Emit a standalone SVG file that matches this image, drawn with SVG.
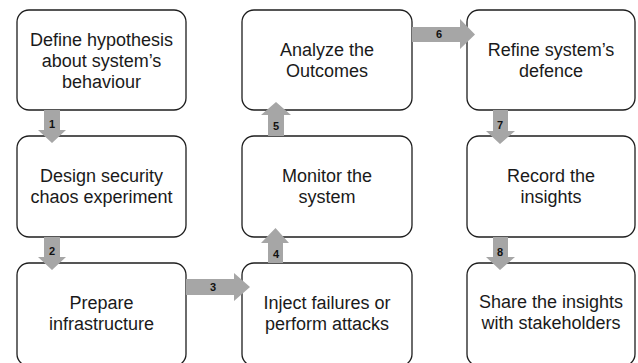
<svg xmlns="http://www.w3.org/2000/svg" width="638" height="363" viewBox="0 0 638 363">
<style>
.box{fill:#fff;stroke:#1e1e1e;stroke-width:1.3}
.t{font-family:"Liberation Sans",Arial,sans-serif;font-size:18px;fill:#1a1a1a;text-anchor:middle}
.arr{fill:#a6a6a6}
.n{font-family:"Liberation Sans",Arial,sans-serif;font-size:11px;font-weight:bold;fill:#111;text-anchor:middle}
</style>
<rect width="638" height="363" fill="#fff"/>
<g id="n1"><rect class="box" x="17" y="10" width="169" height="100" rx="12"/><text class="t" x="101.5" y="45.5">Define hypothesis</text><text class="t" x="101.5" y="66.5">about system’s</text><text class="t" x="101.5" y="87.5">behaviour</text></g>
<g id="n2"><rect class="box" x="17" y="136" width="169" height="101" rx="12"/><text class="t" x="101.5" y="181.5">Design security</text><text class="t" x="101.5" y="202.5">chaos experiment</text></g>
<g id="n3"><rect class="box" x="17" y="263" width="169" height="103" rx="12"/><text class="t" x="101.5" y="308.5">Prepare</text><text class="t" x="101.5" y="329.5">infrastructure</text></g>
<g id="n4"><rect class="box" x="242" y="263" width="170" height="103" rx="12"/><text class="t" x="327" y="308.5">Inject failures or</text><text class="t" x="327" y="329.5">perform attacks</text></g>
<g id="n5"><rect class="box" x="242" y="136" width="170" height="101" rx="12"/><text class="t" x="327" y="181.5">Monitor the</text><text class="t" x="327" y="202.5">system</text></g>
<g id="n6"><rect class="box" x="242" y="10" width="170" height="100" rx="12"/><text class="t" x="327" y="55.5">Analyze the</text><text class="t" x="327" y="76.5">Outcomes</text></g>
<g id="n7"><rect class="box" x="467" y="10" width="168" height="100" rx="12"/><text class="t" x="551" y="55.5">Refine system’s</text><text class="t" x="551" y="76.5">defence</text></g>
<g id="n8"><rect class="box" x="467" y="136" width="168" height="101" rx="12"/><text class="t" x="551" y="181.5">Record the</text><text class="t" x="551" y="202.5">insights</text></g>
<g id="n9"><rect class="box" x="467" y="263" width="168" height="103" rx="12"/><text class="t" x="551" y="307.5">Share the insights</text><text class="t" x="551" y="328.5">with stakeholders</text></g>
<g id="connectors">
<polygon class="arr" points="44,110 60,110 60,130 66,130 52,143 38,130 44,130"/>
<text class="n" x="52" y="128">1</text>
<polygon class="arr" points="44,237 60,237 60,257 66,257 52,270 38,257 44,257"/>
<text class="n" x="52" y="255">2</text>
<polygon class="arr" points="186,279 234,279 234,273 250,287 234,301 234,295 186,295"/>
<text class="n" x="213" y="291">3</text>
<polygon class="arr" points="268,263 283,263 283,243 289,243 275.5,228 261,243 268,243"/>
<text class="n" x="276" y="258">4</text>
<polygon class="arr" points="268,136 284,136 284,115 291,115 276,102 261,115 268,115"/>
<text class="n" x="276" y="130">5</text>
<polygon class="arr" points="412,27 460,27 460,19 475,34.5 460,49 460,42 412,42"/>
<text class="n" x="439" y="38">6</text>
<polygon class="arr" points="493,110 508,110 508,131 515,131 500,144 486,131 493,131"/>
<text class="n" x="500" y="129">7</text>
<polygon class="arr" points="493,237 508,237 508,257 515,257 500,270 486,257 493,257"/>
<text class="n" x="500" y="256">8</text>
</g>
</svg>
